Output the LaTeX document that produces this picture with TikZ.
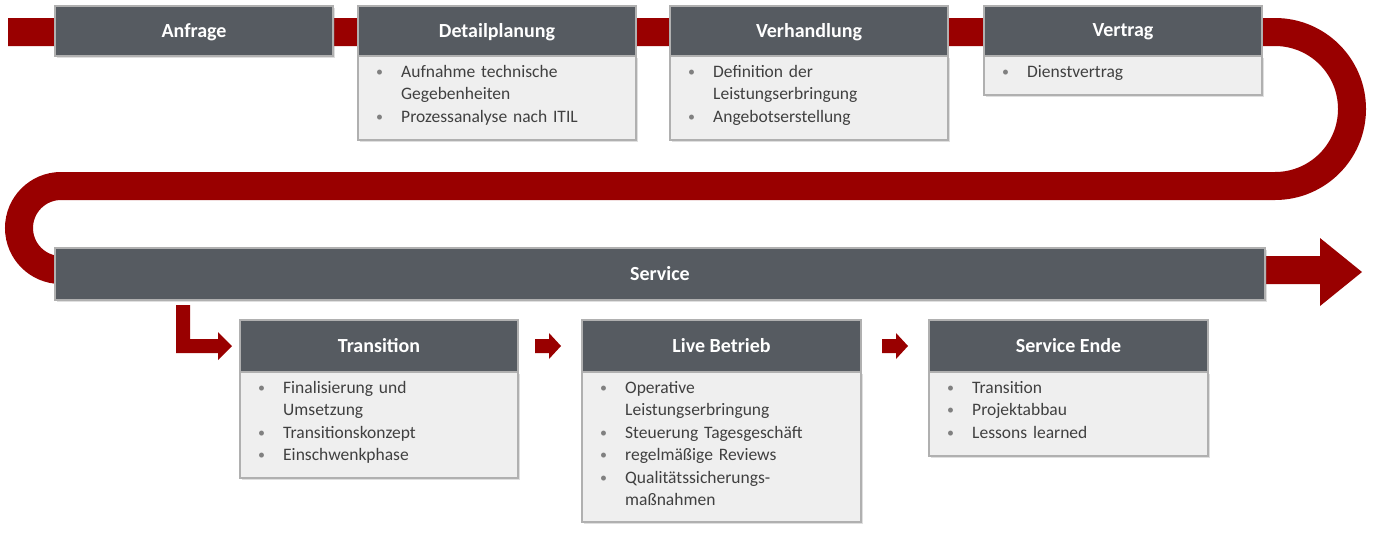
\documentclass[tikz,border=0pt]{standalone}
\usepackage{fontspec}
\setmainfont{Carlito}
\usetikzlibrary{shadows}
\definecolor{bandred}{HTML}{990000}
\definecolor{headgray}{HTML}{565B61}
\definecolor{bodygray}{HTML}{EFEFEF}
\definecolor{bordergray}{HTML}{B0B0B0}
\definecolor{txtgray}{HTML}{404040}
\tikzset{
  head/.style={fill=headgray,draw=bordergray,line width=1.2,text=white,font=\fontsize{20}{24}\selectfont\bfseries,inner sep=0,text depth=0pt},
  htext/.style={text=white,font=\fontsize{20}{24}\selectfont\bfseries,inner sep=0},
  body/.style={fill=bodygray,draw=bordergray,line width=1.2,drop shadow={opacity=0.25,shadow xshift=2pt,shadow yshift=-2pt}},
  items/.style={anchor=north west,text=txtgray,font=\fontsize{17.5}{22.5}\selectfont,align=left,inner sep=0,text width=250},
  band/.style={draw=bandred,line width=28},
  small/.style={fill=bandred,draw=none}
}
\newcommand{\bul}{\makebox[25pt][l]{\color{gray}\raisebox{1pt}{\scalebox{0.8}{\textbullet}}}}
\newcommand{\hang}{\hspace*{25pt}}
\begin{document}
\begin{tikzpicture}[x=1pt,y=-1pt]
\useasboundingbox (0,0) rectangle (1380,539);
% band
\draw[band] (8,32) -- (1275,32) arc[start angle=-90,end angle=90,radius=77] -- (61,186) arc[start angle=270,end angle=90,radius=42] -- (1322,270);
\fill[bandred] (1320,238) -- (1362,272) -- (1320,306) -- cycle;
\newcommand{\phase}[6]{%
  \draw[body] (#2,56) rectangle (#3,#5);
  \draw[head] (#2,6) rectangle (#3,56);
  \node[htext] (#1) at ({(#2+#3)/2},32) {#4};
  \node[items] (#1t) at (#2+18,65) {#6};}
\draw[head,drop shadow={opacity=0.25,shadow xshift=2pt,shadow yshift=-2pt}] (55,6) rectangle (333,56);
\node[htext] (a) at (194,32) {Anfrage};
\phase{d}{358}{636}{Detailplanung}{140}{\bul Aufnahme technische\\\hang Gegebenheiten\\\bul Prozessanalyse nach ITIL}
\phase{v}{670}{948}{Verhandlung}{140}{\bul Definition der\\\hang Leistungserbringung\\\bul Angebotserstellung}
\phase{w}{984}{1262}{Vertrag}{95}{\bul Dienstvertrag}
% service
\draw[head,drop shadow={opacity=0.25,shadow xshift=2pt,shadow yshift=-2pt}] (55,248) rectangle (1265,300);
\node[htext] (s) at (660,274) {Service};
\newcommand{\phaseb}[6]{%
  \draw[body] (#2,372) rectangle (#3,#5);
  \draw[head] (#2,320) rectangle (#3,372);
  \node[htext] (#1) at ({(#2+#3)/2},346) {#4};
  \node[items] (#1t) at (#2+18,381) {#6};}
\phaseb{t}{240}{518}{Transition}{478}{\bul Finalisierung und\\\hang Umsetzung\\\bul Transitionskonzept\\\bul Einschwenkphase}
\phaseb{l}{582}{861}{Live Betrieb}{522}{\bul Operative\\\hang Leistungserbringung\\\bul Steuerung Tagesgeschäft\\\bul regelmäßige Reviews\\\bul Qualitätssicherungs-\\\hang maßnahmen}
\phaseb{e}{929}{1208}{Service Ende}{456}{\bul Transition\\\bul Projektabbau\\\bul Lessons learned}
% small arrows
\fill[small] (176,305) -- (190,305) -- (190,339) -- (218,339) -- (218,332) -- (232,346) -- (218,360) -- (218,353) -- (176,353) -- cycle;
\fill[small] (535,339) -- (549,339) -- (549,333) -- (561,346) -- (549,359) -- (549,353) -- (535,353) -- cycle;
\fill[small] (882,339) -- (896,339) -- (896,333) -- (908,346) -- (896,359) -- (896,353) -- (882,353) -- cycle;
\end{tikzpicture}
\end{document}
